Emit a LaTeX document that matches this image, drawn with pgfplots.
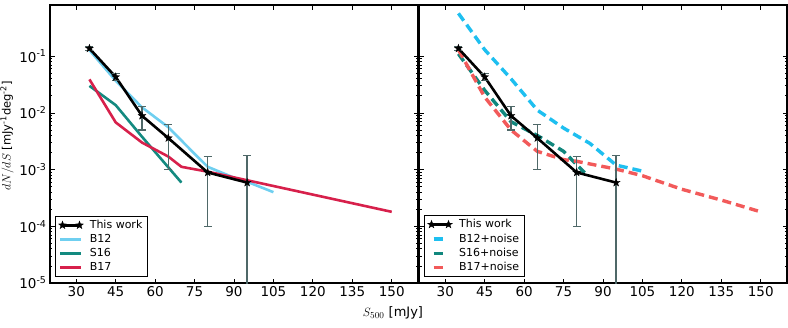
\documentclass[border=0pt]{standalone}
\usepackage{pgfplots}
\pgfplotsset{compat=1.18}
\usepackage{fontspec}
\setmainfont{DejaVu Sans}

\definecolor{cB12}{HTML}{6FCFF0}
\definecolor{cS16}{HTML}{138A80}
\definecolor{cB17}{HTML}{D7204B}
\definecolor{cB12n}{HTML}{1EBFF0}
\definecolor{cS16n}{HTML}{11877D}
\definecolor{cB17n}{HTML}{F25A5A}
\definecolor{errc}{HTML}{4F6868}

\pgfdeclareplotmark{fstar}{%
\pgfpathmoveto{\pgfpointpolar{90}{\pgfplotmarksize}}%
\pgfpathlineto{\pgfpointpolar{126}{0.4\pgfplotmarksize}}%
\pgfpathlineto{\pgfpointpolar{162}{\pgfplotmarksize}}%
\pgfpathlineto{\pgfpointpolar{198}{0.4\pgfplotmarksize}}%
\pgfpathlineto{\pgfpointpolar{234}{\pgfplotmarksize}}%
\pgfpathlineto{\pgfpointpolar{270}{0.4\pgfplotmarksize}}%
\pgfpathlineto{\pgfpointpolar{306}{\pgfplotmarksize}}%
\pgfpathlineto{\pgfpointpolar{342}{0.4\pgfplotmarksize}}%
\pgfpathlineto{\pgfpointpolar{18}{\pgfplotmarksize}}%
\pgfpathlineto{\pgfpointpolar{54}{0.4\pgfplotmarksize}}%
\pgfpathclose\pgfusepathqfillstroke}

\pgfplotsset{
 /pgfplots/solleg/.style={legend image code/.code={\draw[##1] (0pt,0pt) -- (21pt,0pt); \path (26pt,0pt);}},
 /pgfplots/dashleg/.style={legend image code/.code={\draw[##1,solid] (4pt,0pt) -- (13pt,0pt); \path (0pt,0pt) (26pt,0pt);}},
 /pgfplots/starleg/.style={legend image code/.code={\draw[##1] plot coordinates {(2pt,0pt) (19pt,0pt)}; \path (0pt,0pt) (26pt,0pt);}},
}

\begin{document}
\begin{tikzpicture}
\useasboundingbox (-50pt,-44pt) rectangle (738pt,283pt);

\begin{axis}[
  width=368pt, height=278pt, scale only axis,
  xmin=20, xmax=160, ymode=log, ymin=1e-5, ymax=0.8,
  xtick={30,45,60,75,90,105,120,135,150},
  ytick={1e-5,1e-4,1e-3,1e-2,1e-1},
  yticklabels={10\textsuperscript{-5},10\textsuperscript{-4},10\textsuperscript{-3},10\textsuperscript{-2},10\textsuperscript{-1}},
  /pgf/number format/assume math mode=true,
  axis line style={line width=1.1pt},
  major tick length=4.5pt, minor tick length=2.5pt,
  tick style={black, line width=0.8pt},
  tick label style={font=\fontsize{13.5}{15}\selectfont},
  legend cell align=left,
  legend style={at={(0.0136,0.0216)}, anchor=south west,
    font=\fontsize{11}{13}\selectfont, draw=black, line width=1pt,
    inner xsep=3pt, inner ysep=2pt, row sep=0.5pt}]
\addlegendimage{black, line width=2.6pt, mark=fstar, starleg,
   mark options={solid, fill=black, draw=black, line width=0.3pt, mark size=4.2pt}}
\addlegendentry{This work}
\addplot[cB12, line width=2.6pt, solleg] coordinates {
 (35,0.128) (45,0.037) (55,0.0125) (65,0.0056) (75,0.0019) (80,0.00112) (90,0.00072) (95,0.00061) (105,0.0004)};
\addlegendentry{B12}
\addplot[cS16, line width=2.6pt, solleg] coordinates {
 (35,0.030) (45,0.0137) (55,0.0038) (70,0.00059)};
\addlegendentry{S16}
\addplot[cB17, line width=2.6pt, solleg] coordinates {
 (35,0.039) (45,0.0068) (55,0.0030) (65,0.0017) (70,0.00112) (80,0.00092) (150,0.00018)};
\addlegendentry{B17}
\addplot[black, line width=2.6pt, mark=fstar, forget plot,
   mark options={solid, fill=black, draw=black, line width=0.3pt, mark size=4.2pt},
   error bars/.cd, y dir=both, y explicit,
   error bar style={errc, line width=1.3pt, solid},
   error mark options={errc, line width=1.3pt, mark size=4pt, rotate=90}] coordinates {
 (35,0.137) += (0,0.012) -= (0,0.012)
 (45,0.043) += (0,0.007) -= (0,0.006)
 (55,0.0089) += (0,0.0039) -= (0,0.0039)
 (65,0.0036) += (0,0.0027) -= (0,0.0026)
 (80,0.00089) += (0,0.0008) -= (0,0.00079)
 (95,0.00059) += (0,0.0012) -= (0,0.000589)};
\end{axis}

\begin{axis}[at={(369pt,0pt)},
  width=368pt, height=278pt, scale only axis,
  xmin=20, xmax=160, ymode=log, ymin=1e-5, ymax=0.8,
  xtick={30,45,60,75,90,105,120,135,150},
  ytick={1e-5,1e-4,1e-3,1e-2,1e-1},
  yticklabels={},
  /pgf/number format/assume math mode=true,
  axis line style={line width=1.1pt},
  major tick length=4.5pt, minor tick length=2.5pt,
  tick style={black, line width=0.8pt},
  tick label style={font=\fontsize{13.5}{15}\selectfont},
  legend cell align=left,
  legend style={at={(0.0136,0.0216)}, anchor=south west,
    font=\fontsize{11}{13}\selectfont, draw=black, line width=1pt,
    inner xsep=3pt, inner ysep=2pt, row sep=0.5pt}]
\addlegendimage{black, line width=2.6pt, mark=fstar, starleg,
   mark options={solid, fill=black, draw=black, line width=0.3pt, mark size=4.2pt}}
\addlegendentry{This work}
\addplot[cB12n, line width=3.4pt, dash pattern=on 9pt off 5pt, dashleg] coordinates {
 (35,0.57) (45,0.13) (55,0.040) (65,0.0112) (75,0.0054) (85,0.0029) (95,0.0012) (105,0.00094)};
\addlegendentry{B12+noise}
\addplot[cS16n, line width=3.4pt, dash pattern=on 9pt off 5pt, dashleg] coordinates {
 (35,0.11) (45,0.025) (55,0.0070) (65,0.0040) (75,0.0021) (83,0.00088)};
\addlegendentry{S16+noise}
\addplot[cB17n, line width=3.4pt, dash pattern=on 9pt off 5pt, dashleg] coordinates {
 (35,0.13) (45,0.019) (55,0.0050) (65,0.0021) (75,0.0015) (80,0.0014) (95,0.00102) (105,0.00078) (120,0.00045) (135,0.00029) (150,0.00018)};
\addlegendentry{B17+noise}
\addplot[black, line width=2.6pt, mark=fstar, forget plot,
   mark options={solid, fill=black, draw=black, line width=0.3pt, mark size=4.2pt},
   error bars/.cd, y dir=both, y explicit,
   error bar style={errc, line width=1.3pt, solid},
   error mark options={errc, line width=1.3pt, mark size=4pt, rotate=90}] coordinates {
 (35,0.137) += (0,0.012) -= (0,0.012)
 (45,0.043) += (0,0.007) -= (0,0.006)
 (55,0.0089) += (0,0.0039) -= (0,0.0039)
 (65,0.0036) += (0,0.0027) -= (0,0.0026)
 (80,0.00089) += (0,0.0008) -= (0,0.00079)
 (95,0.00059) += (0,0.0012) -= (0,0.000589)};
\end{axis}

\node[font=\fontsize{13}{15}\selectfont] at (343pt,-30pt) {$S_{500}$ [mJy]};
\node[rotate=90, font=\fontsize{11.5}{13}\selectfont] at (-43pt,147pt) {$dN/dS$ [mJy\textsuperscript{-1}deg\textsuperscript{-2}]};
\end{tikzpicture}
\end{document}
